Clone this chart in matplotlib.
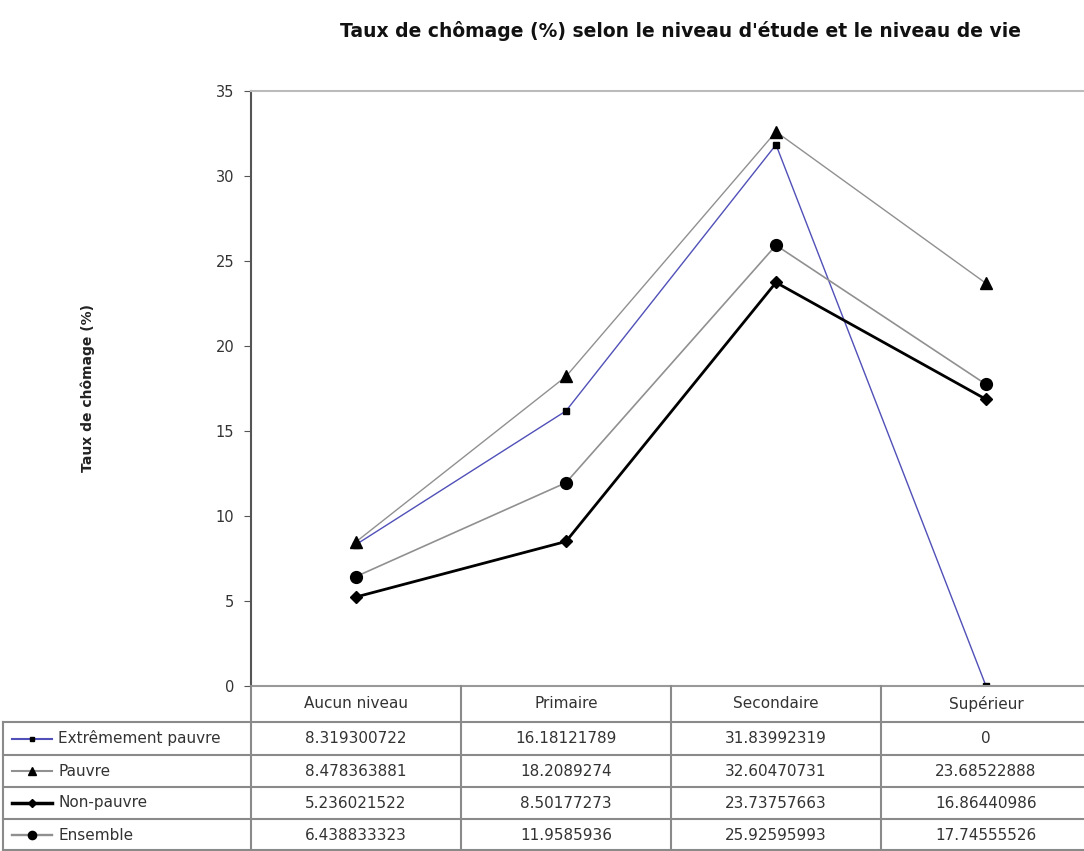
import numpy as np
import matplotlib.pyplot as plt
from matplotlib.lines import Line2D

# categories and series
niveaux = ['Aucun niveau', 'Primaire', 'Secondaire', 'Supérieur']
extr_pauvre = [8.319300722, 16.18121789, 31.83992319, 0]
pauvre = [8.478363881, 18.2089274, 32.60470731, 23.68522888]
non_pauvre = [5.236021522, 8.50177273, 23.73757663, 16.86440986]
ensemble = [6.438833323, 11.9585936, 25.92595993, 17.74555526]

series = [
    ('Extrêmement pauvre', extr_pauvre, '#5050b8', 's', 1.0, 5),
    ('Pauvre', pauvre, '#909090', '^', 1.0, 8.5),
    ('Non-pauvre', non_pauvre, '#000000', 'D', 2.0, 6.5),
    ('Ensemble', ensemble, '#909090', 'o', 1.2, 8.5),
]

W, H = 1084, 851
plt.rcParams['font.family'] = ['DejaVu Sans']
fig = plt.figure(figsize=(W / 100, H / 100), dpi=100)

x0, x1, ytop, ybot = 251, 1084, 91, 686
colw = 210
ax = fig.add_axes([x0 / W, 1 - ybot / H, (x1 - x0) / W, (ybot - ytop) / H])
x = np.arange(len(niveaux))
for name, vals, col, mk, lw, ms in series:
    ax.plot(x, vals, color=col, lw=lw, marker=mk, ms=ms,
            markerfacecolor='black', markeredgecolor='black')

ax.set_xlim(-0.5, (x1 - x0) / colw - 0.5)
ax.set_ylim(0, 35)
ax.set_yticks(range(0, 36, 5))
ax.set_xticks([])
ax.tick_params(axis='y', direction='out', length=5, color='#555555',
               labelsize=10.5, labelcolor='#333333', pad=7)
ax.spines['right'].set_visible(False)
ax.spines['left'].set_color('#555555')
ax.spines['left'].set_linewidth(1.5)
ax.spines['top'].set_color('#bbbbbb')
ax.spines['top'].set_linewidth(1.5)
ax.spines['bottom'].set_color('#999999')
ax.spines['bottom'].set_linewidth(1.5)

fig.text(680 / W, 1 - 31 / H, "Taux de chômage (%) selon le niveau d'étude et le niveau de vie",
         ha='center', va='center', fontsize=13.5, fontweight='bold', color='#111111')
fig.text(88 / W, 1 - 388 / H, 'Taux de chômage (%)', rotation=90,
         ha='center', va='center', fontsize=10, fontweight='bold', color='#222222')

# data table below the plot
gray = '#8a8a8a'
row_y = [686, 722, 755, 787, 819, 851]
col_x = [x0 + i * colw for i in range(len(niveaux) + 1)]


def fx(px):
    return px / W


def fy(py):
    return 1 - py / H


def hline(xa, xb, y):
    fig.add_artist(Line2D([fx(xa), fx(xb)], [fy(y), fy(y)], color=gray, lw=1.5))


def vline(xp, ya, yb):
    fig.add_artist(Line2D([fx(xp), fx(xp)], [fy(ya), fy(yb)], color=gray, lw=1.5))


for yy in row_y[1:-1]:
    hline(3, W, yy)
hline(3, W, 850)
for xp in col_x[:-1]:
    vline(xp, row_y[0], row_y[-1])
vline(3, row_y[1], row_y[-1])

for j, cat in enumerate(niveaux):
    fig.text(fx(col_x[j] + colw / 2), fy((row_y[0] + row_y[1]) / 2), cat,
             ha='center', va='center', fontsize=11, color='#333333')

for i, (name, vals, col, mk, lw, ms) in enumerate(series):
    yc = fy((row_y[i + 1] + row_y[i + 2]) / 2)
    fig.add_artist(Line2D([fx(12), fx(52)], [yc, yc], color=col, lw=lw + 0.5))
    fig.add_artist(Line2D([fx(32)], [yc], marker=mk, ms=ms * 0.7, color='black', lw=0))
    fig.text(fx(58), yc, name, ha='left', va='center', fontsize=11, color='#333333')
    for j, v in enumerate(vals):
        fig.text(fx(col_x[j] + colw / 2), yc, '%.10g' % v,
                 ha='center', va='center', fontsize=11, color='#333333')

fig.savefig('out.png', dpi=100)
